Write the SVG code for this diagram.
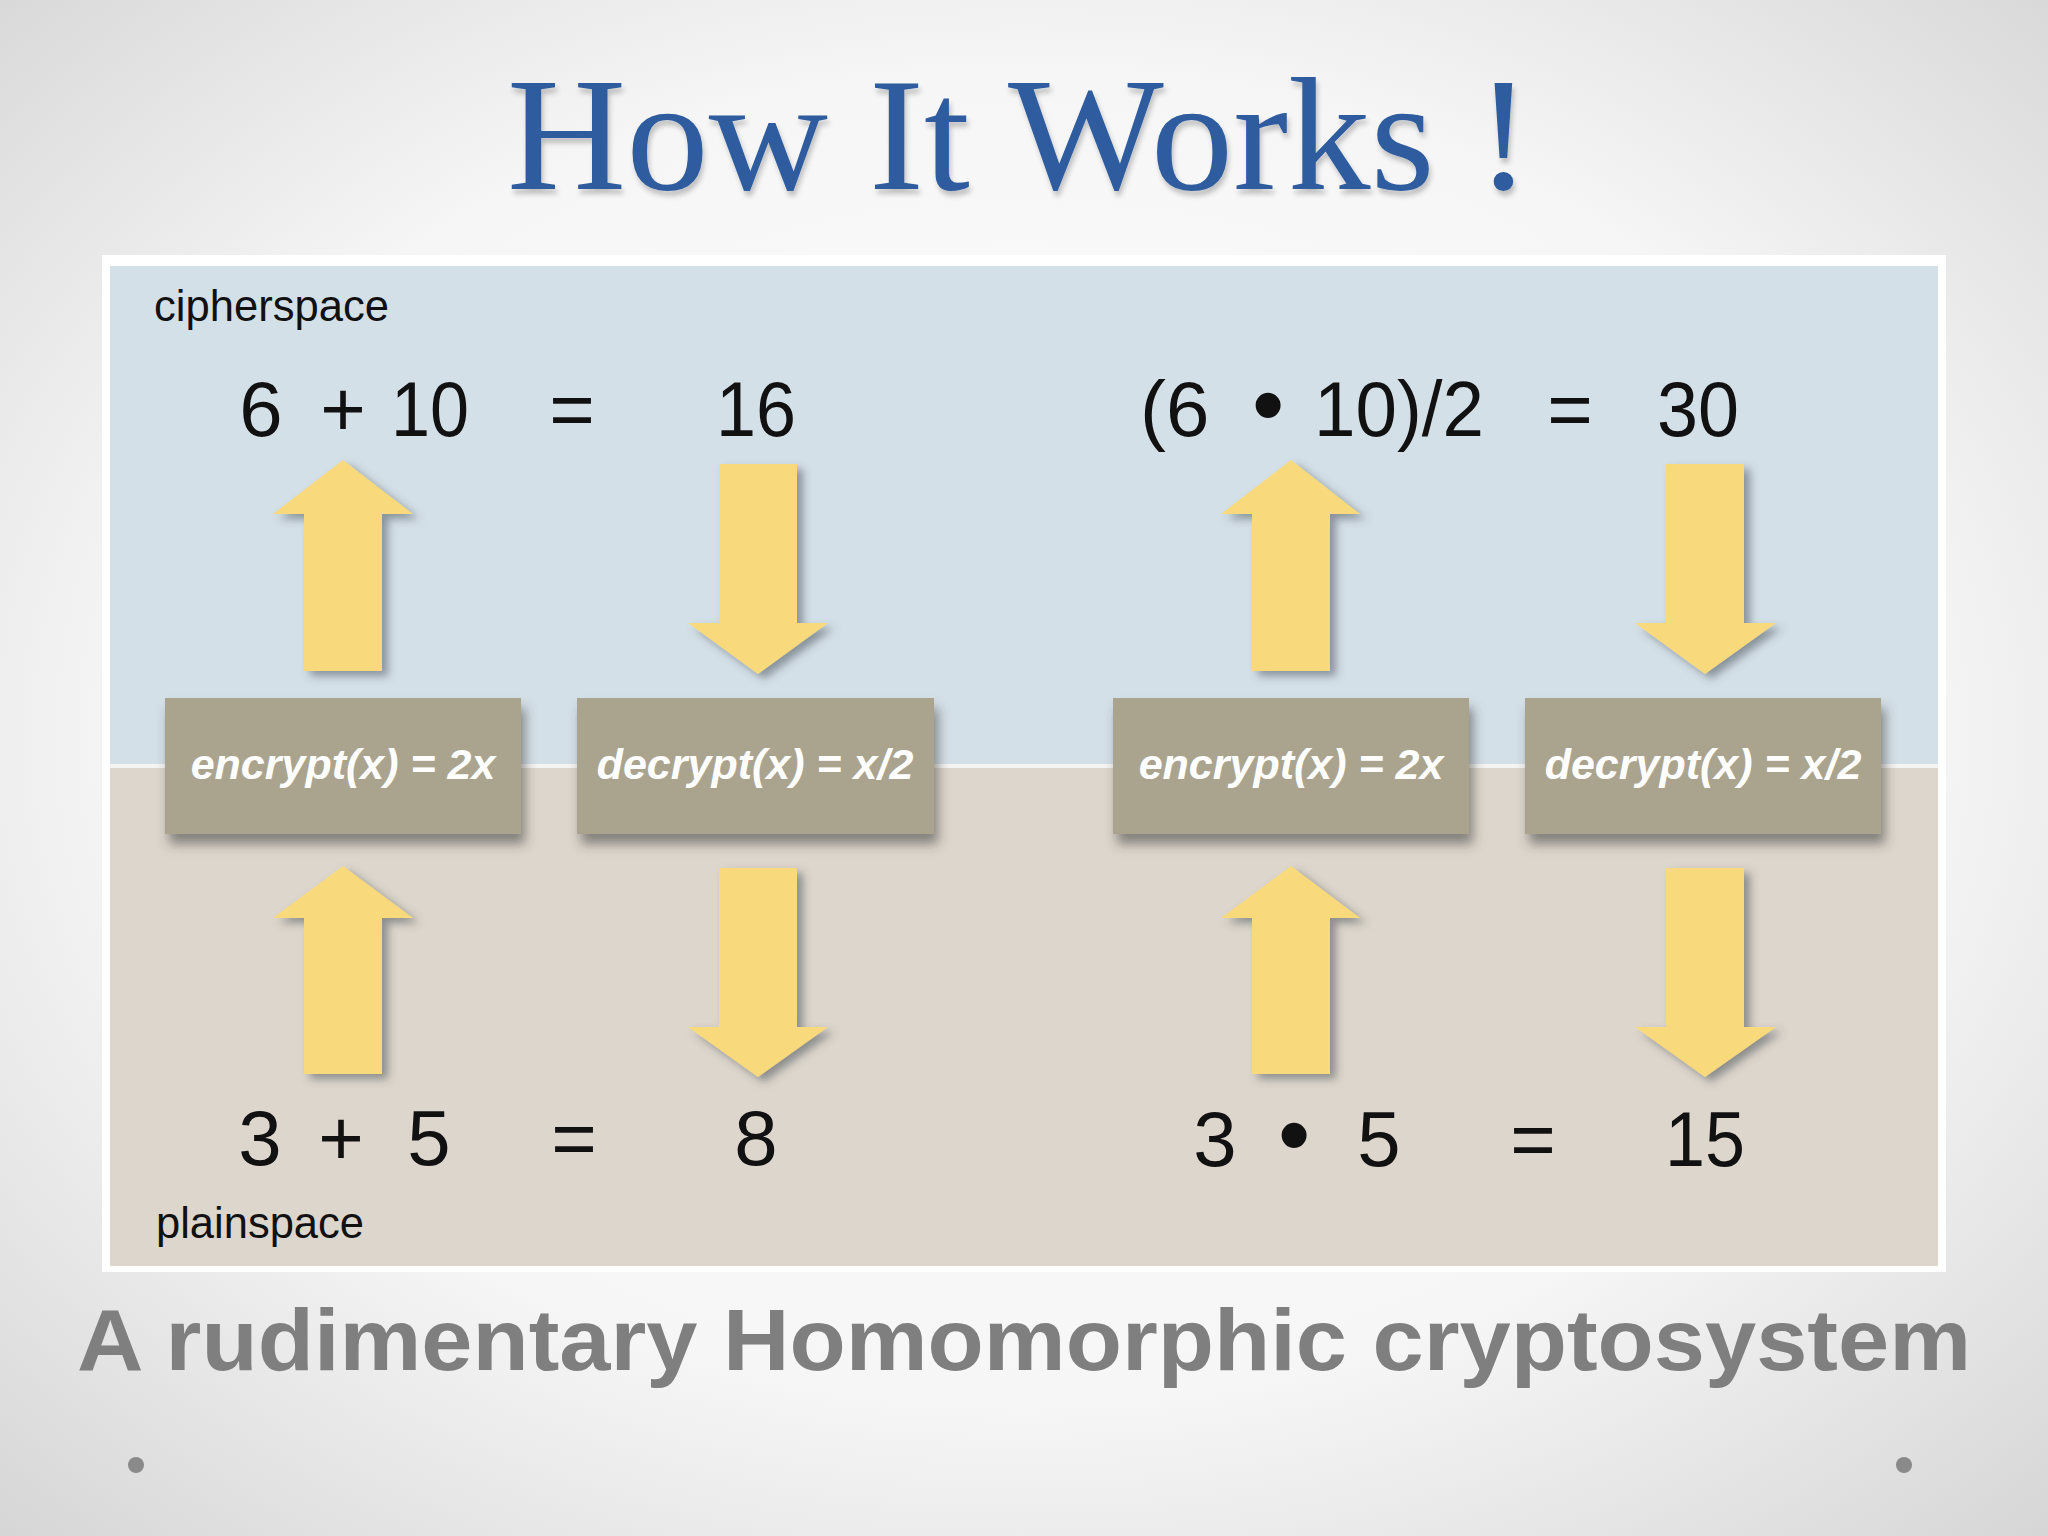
<svg xmlns="http://www.w3.org/2000/svg" width="2048" height="1536" viewBox="0 0 2048 1536">
<defs>
<radialGradient id="bg" cx="50%" cy="48%" r="72%">
<stop offset="0" stop-color="#FFFFFF"/>
<stop offset="0.6" stop-color="#F6F6F6"/>
<stop offset="1" stop-color="#D6D6D6"/>
</radialGradient>
<filter id="titleShadow" x="-5%" y="-20%" width="110%" height="150%">
<feDropShadow dx="2" dy="5" stdDeviation="2.5" flood-color="#000" flood-opacity="0.22"/>
</filter>
<filter id="boxShadow" x="-10%" y="-20%" width="125%" height="150%">
<feDropShadow dx="4" dy="10" stdDeviation="6" flood-color="#3a3a3a" flood-opacity="0.55"/>
</filter>
<filter id="arrowShadow" x="-30%" y="-10%" width="170%" height="130%">
<feDropShadow dx="6" dy="5" stdDeviation="4" flood-color="#3c4450" flood-opacity="0.5"/>
</filter>
<style>
.eq{font-family:"Liberation Sans",Arial,sans-serif;font-size:78px;fill:#111;text-anchor:middle}
.lbl{font-family:"Liberation Sans",Arial,sans-serif;font-size:44px;fill:#111}
.box{fill:#AAA48F;filter:url(#boxShadow)}
.btxt{font-family:"Liberation Sans",Arial,sans-serif;font-size:43px;font-weight:bold;font-style:italic;fill:#FFFFFF;text-anchor:middle}
.arrow{fill:#F8DA7C;filter:url(#arrowShadow)}
</style>
</defs>
<rect x="0" y="0" width="2048" height="1536" fill="url(#bg)"/>
<g id="title">
<text x="1019" y="189" font-family="'Liberation Serif','Times New Roman',serif" font-size="162" fill="#2D5C9E" text-anchor="middle" textLength="1024" lengthAdjust="spacingAndGlyphs" filter="url(#titleShadow)">How It Works !</text>
</g>
<g id="panel">
<rect x="102" y="255" width="1844" height="1017" fill="#FFFFFF"/>
<rect x="110" y="266" width="1828" height="498" fill="#D4E0E7"/>
<rect x="110" y="768" width="1828" height="498" fill="#DDD6CC"/>
<rect x="110" y="764" width="1828" height="4" fill="#F4F4F2"/>
</g>
<g id="space-labels">
<text class="lbl" x="154" y="321" textLength="235" lengthAdjust="spacingAndGlyphs">cipherspace</text>
<text class="lbl" x="156" y="1238" textLength="208" lengthAdjust="spacingAndGlyphs">plainspace</text>
</g>
<g id="eq-cipher-add">
<text class="eq" x="261" y="436">6</text>
<text class="eq" x="343" y="436">+</text>
<text class="eq" x="430" y="436" textLength="78" lengthAdjust="spacingAndGlyphs">10</text>
<text class="eq" x="572" y="436">=</text>
<text class="eq" x="756" y="436" textLength="80" lengthAdjust="spacingAndGlyphs">16</text>
</g>
<g id="eq-cipher-mul">
<text class="eq" x="1140" y="436" style="text-anchor:start">(6</text>
<text class="eq" x="1268" y="436" style="font-size:92px">•</text>
<text class="eq" x="1314" y="436" style="text-anchor:start" textLength="170" lengthAdjust="spacingAndGlyphs">10)/2</text>
<text class="eq" x="1570" y="436">=</text>
<text class="eq" x="1698" y="436" textLength="82" lengthAdjust="spacingAndGlyphs">30</text>
</g>
<g id="eq-plain-add">
<text class="eq" x="260" y="1165">3</text>
<text class="eq" x="341" y="1165">+</text>
<text class="eq" x="429" y="1165">5</text>
<text class="eq" x="574" y="1165">=</text>
<text class="eq" x="756" y="1165">8</text>
</g>
<g id="eq-plain-mul">
<text class="eq" x="1215" y="1166">3</text>
<text class="eq" x="1294" y="1166" style="font-size:92px">•</text>
<text class="eq" x="1379" y="1166">5</text>
<text class="eq" x="1533" y="1166">=</text>
<text class="eq" x="1705" y="1166" textLength="80" lengthAdjust="spacingAndGlyphs">15</text>
</g>
<g id="box-encrypt-1">
<rect class="box" x="165" y="698" width="356" height="136"/>
<text class="btxt" x="343" y="779">encrypt(x) = 2x</text>
</g>
<g id="box-decrypt-1">
<rect class="box" x="577" y="698" width="357" height="136"/>
<text class="btxt" x="755" y="779">decrypt(x) = x/2</text>
</g>
<g id="box-encrypt-2">
<rect class="box" x="1113" y="698" width="356" height="136"/>
<text class="btxt" x="1291" y="779">encrypt(x) = 2x</text>
</g>
<g id="box-decrypt-2">
<rect class="box" x="1525" y="698" width="356" height="136"/>
<text class="btxt" x="1703" y="779">decrypt(x) = x/2</text>
</g>
<g id="connectors">
<path class="arrow" d="M343,460 L413,514 L382,514 L382,671 L304,671 L304,514 L273,514 Z"/>
<path class="arrow" d="M343,866 L413,918 L382,918 L382,1074 L304,1074 L304,918 L273,918 Z"/>
<path class="arrow" d="M719,464 L797,464 L797,623 L828,623 L758,674 L688,623 L719,623 Z"/>
<path class="arrow" d="M719,868 L797,868 L797,1027 L828,1027 L758,1077 L688,1027 L719,1027 Z"/>
<path class="arrow" d="M1291,460 L1360,514 L1330,514 L1330,671 L1252,671 L1252,514 L1221,514 Z"/>
<path class="arrow" d="M1291,866 L1360,918 L1330,918 L1330,1074 L1252,1074 L1252,918 L1221,918 Z"/>
<path class="arrow" d="M1666,464 L1744,464 L1744,623 L1776,623 L1705,674 L1635,623 L1666,623 Z"/>
<path class="arrow" d="M1666,868 L1744,868 L1744,1027 L1776,1027 L1705,1077 L1635,1027 L1666,1027 Z"/>
</g>
<g id="subtitle">
<text x="1024" y="1370" font-family="'Liberation Sans',Arial,sans-serif" font-size="88" font-weight="bold" fill="#7F7F7F" text-anchor="middle" textLength="1894" lengthAdjust="spacingAndGlyphs">A rudimentary Homomorphic cryptosystem</text>
</g>
<g id="bullets">
<circle cx="136" cy="1465" r="8" fill="#8A8A8A"/>
<circle cx="1904" cy="1465" r="8" fill="#8A8A8A"/>
</g>
</svg>
